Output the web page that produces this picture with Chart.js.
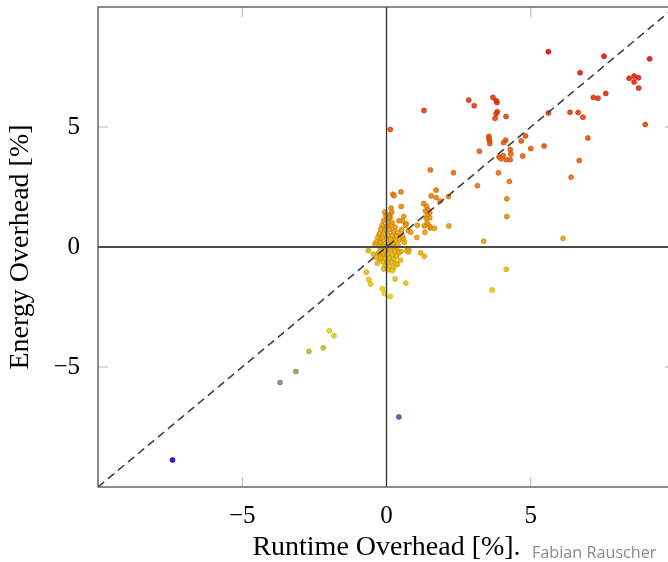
<!DOCTYPE html>
<html>
<head>
<meta charset="utf-8">
<script src="https://cdn.jsdelivr.net/npm/chart.js@4.4.1/dist/chart.umd.min.js"></script>
<style>
    html, body { margin: 0; padding: 0; background: #fff; overflow: hidden; width: 668px; height: 562px; }
    #wrap { position: relative; width: 680px; height: 562px; }
    #credit {
        position: absolute; left: 532px; top: 541px;
        font-family: "Open Sans", sans-serif; font-size: 16.2px; color: #8a8a8a; white-space: nowrap;
    }
</style>
</head>
<body>
<div id="wrap">
    <canvas id="scatterChart" width="680" height="562"></canvas>
    <div id="credit">Fabian Rauscher</div>
</div>
<script>
// ========================================
// Runtime vs energy overhead scatter
// ========================================

// Runtime overhead [%] (x) and energy overhead [%] (y)
const runtimeOverhead = [
    5.61, 7.54, 9.12, 6.71, 8.41, 8.58, 8.73, 8.58, 8.74, 7.17, 7.33, 7.60,
    2.85, 3.04, 1.30, 3.69, 3.80, 3.83, 3.84, 3.80, 3.76, 4.14, 5.61, 6.36,
    6.64, 6.81, 8.97, 6.98, 3.55, 3.55, 3.57, 3.58, 4.13, 4.06, 4.67, 4.82,
    5.46, 5.00, 3.22, 4.29, 4.31, 4.72, 3.90, 3.97, 4.04, 4.15, 4.29, 6.68,
    3.88, 4.26, 6.40, 3.15, 2.32, 1.52, 4.17, 4.17, 2.15, 1.72, 1.55, 1.72,
    1.86, 1.29, 1.38, 1.44, 1.35, 1.50, 1.41, 1.50, 1.38, 1.07, 1.31, 1.44,
    1.52, 1.66, 1.33, 1.05, 2.16, 0.13, 3.37, 6.12, 4.15, 3.66, 1.18, 1.31,
    0.22, 0.26, 0.50, 0.16, 0.51, -0.06, 0.12, 0.12, 0.60, 0.43, 0.55, 0.68,
    0.76, 0.84, 0.52, 0.66, 0.77, 0.70, 0.76, 0.50, -0.35, -0.21, -0.63, -0.36,
    -0.24, -0.15, -0.70, -0.61, -0.55, -0.14, -0.07, 0.13, 0.30, 0.67,
    -0.10, 0.05, 0.20, -0.15, 0.00, 0.15, 0.30, -0.20, -0.05, 0.10, 0.25, 0.40,
    -0.25, -0.10, 0.05, 0.20, 0.35, -0.30, -0.15, 0.00, 0.15, 0.30, 0.45, -0.20,
    -0.05, 0.10, 0.25, 0.40, -0.25, -0.10, 0.05, 0.20, 0.35, -0.18, -0.02, 0.12,
    0.28, 0.42, -0.28, -0.10, 0.05, 0.20, 0.35, -0.20, -0.05, 0.10, 0.25, -0.12,
    0.02, 0.18, 0.32, -0.05, 0.10, 0.25, -0.10, 0.05, 0.20, 0.08, 0.18, -0.02,
    1.41, 1.51, -3.69, -3.14, -2.69, -2.19, -1.98, -1.82, 0.43, -7.42,
    -0.40, 0.55, -0.45, 0.38, 0.62, -0.32, 0.48, 0.58
];
const energyOverhead = [
    8.14, 7.95, 7.84, 7.26, 7.03, 7.12, 7.05, 6.88, 6.62, 6.23, 6.20, 6.40,
    6.12, 5.89, 5.69, 6.23, 6.09, 6.02, 5.64, 5.55, 5.36, 5.44, 5.58, 5.61,
    5.60, 5.41, 5.10, 4.54, 4.61, 4.52, 4.43, 4.31, 4.45, 4.35, 4.42, 4.63,
    4.21, 4.10, 3.99, 4.06, 3.88, 3.79, 3.75, 3.68, 3.81, 3.64, 3.64, 3.60,
    3.09, 2.73, 2.91, 2.55, 3.09, 3.21, 2.01, 1.27, 2.10, 2.37, 2.13, 2.06,
    1.91, 1.81, 1.70, 1.55, 1.50, 1.43, 1.33, 1.22, 1.19, 0.91, 0.88, 0.94,
    0.79, 0.78, 0.61, 0.40, 0.88, 4.90, 0.24, 0.36, -0.93, -1.79, -0.24, -0.39,
    2.20, 2.14, 2.30, 1.62, 1.69, 1.46, 1.34, 1.23, 1.27, 1.09, 1.09, 0.98,
    0.68, 0.61, 0.72, 0.90, -0.10, -0.15, -0.21, -0.19, 0.22, 0.26, -0.15, -0.43,
    -0.50, -0.34, -1.05, -1.36, -1.54, -1.74, -1.94, -2.06, -1.33, -1.51,
    1.10, 1.05, 1.00, 0.90, 0.85, 0.88, 0.82, 0.75, 0.70, 0.72, 0.65, 0.60,
    0.55, 0.55, 0.50, 0.48, 0.45, 0.40, 0.38, 0.35, 0.30, 0.28, 0.30, 0.18,
    0.15, 0.12, 0.10, 0.08, 0.02, 0.00, -0.02, 0.03, -0.05, -0.12, -0.15, -0.10,
    -0.18, -0.25, -0.25, -0.28, -0.30, -0.32, -0.38, -0.45, -0.48, -0.45, -0.52, -0.62,
    -0.65, -0.62, -0.70, -0.78, -0.80, -0.85, -0.92, -0.95, -0.98, 1.20, 1.45, 1.30,
    0.99, 0.85, -5.65, -5.19, -4.35, -4.20, -3.49, -3.70, -7.08, -8.88,
    0.12, 0.45, -0.30, -0.72, 0.20, -0.68, -0.55, 0.35
];

// axis settings
const axisRange = [-10, 10];
const tickValues = [-5, 0, 5];
const xTitle = 'Runtime Overhead [%].';
const yTitle = 'Energy Overhead [%]';

// pgfplots default colormap: blue - yellow - orange - red
const colormapStops = [[0, 0, 255], [255, 255, 0], [255, 128, 0], [255, 0, 0]];

function mapColor(value, lo, hi) {
    const t = Math.max(0, Math.min(1, (value - lo) / (hi - lo))) * 3;
    const i = Math.min(2, Math.floor(t));
    const f = t - i;
    const a = colormapStops[i];
    const b = colormapStops[i + 1];
    return a.map((c, k) => Math.round(c + (b[k] - c) * f));
}

function formatTick(value) {
    return value < 0 ? '\u2212' + Math.abs(value) : String(value);
}

const points = runtimeOverhead.map((x, i) => ({ x: x, y: energyOverhead[i] }));
const metaMin = Math.min(...energyOverhead);
const metaMax = Math.max(...energyOverhead);
const fillColors = [];
const edgeColors = [];
energyOverhead.forEach(v => {
    const c = mapColor(v, metaMin, metaMax);
    const f = c.map(k => Math.round(k * 0.9));
    const e = c.map(k => Math.round(k * 0.78));
    fillColors.push(`rgba(${f[0]}, ${f[1]}, ${f[2]}, 0.85)`);
    edgeColors.push(`rgba(${e[0]}, ${e[1]}, ${e[2]}, 0.9)`);
});

// frame and inner tick marks like pgfplots
const framePlugin = {
    id: 'frame',
    beforeDatasetsDraw(chart) {
        const { ctx, chartArea: a, scales } = chart;
        ctx.save();
        ctx.strokeStyle = '#b4b4b4';
        ctx.lineWidth = 1;
        const len = 10;
        tickValues.forEach(v => {
            const px = scales.x.getPixelForValue(v);
            const py = scales.y.getPixelForValue(v);
            ctx.beginPath();
            ctx.moveTo(px, a.bottom); ctx.lineTo(px, a.bottom - len);
            ctx.moveTo(px, a.top); ctx.lineTo(px, a.top + len);
            ctx.moveTo(a.left, py); ctx.lineTo(a.left + len, py);
            ctx.moveTo(a.right, py); ctx.lineTo(a.right - len, py);
            ctx.stroke();
        });
        ctx.restore();
    },
    afterDatasetsDraw(chart) {
        const { ctx, chartArea: a } = chart;
        ctx.save();
        ctx.strokeStyle = '#5c5c5c';
        ctx.lineWidth = 1.4;
        ctx.strokeRect(a.left, a.top, a.right - a.left, a.bottom - a.top);
        ctx.restore();
    }
};

function initChart() {
    const canvas = document.getElementById('scatterChart');
    const ctx = canvas.getContext('2d');

    new Chart(ctx, {
        type: 'scatter',
        data: {
            datasets: [
                {
                    label: 'diagonal',
                    data: axisRange.map(v => ({ x: v, y: v })),
                    showLine: true,
                    borderColor: '#404040',
                    borderWidth: 1.6,
                    borderDash: [8, 5],
                    pointRadius: 0,
                    order: 0
                },
                {
                    label: 'zeroX',
                    data: axisRange.map(v => ({ x: v, y: 0 })),
                    showLine: true,
                    borderColor: '#4a4a4a',
                    borderWidth: 1.8,
                    pointRadius: 0,
                    order: 1
                },
                {
                    label: 'zeroY',
                    data: axisRange.map(v => ({ x: 0, y: v })),
                    showLine: true,
                    borderColor: '#303030',
                    borderWidth: 1.3,
                    pointRadius: 0,
                    order: 2
                },
                {
                    label: 'benchmarks',
                    data: points,
                    backgroundColor: fillColors,
                    borderColor: edgeColors,
                    borderWidth: 0.7,
                    pointRadius: 2.5,
                    order: 3
                }
            ]
        },
        options: {
            responsive: false,
            animation: false,
            layout: { padding: { top: 7, right: 5, left: 0, bottom: 0 } },
            plugins: {
                legend: { display: false },
                tooltip: { enabled: false }
            },
            scales: {
                x: {
                    type: 'linear',
                    min: axisRange[0],
                    max: axisRange[1],
                    afterBuildTicks: s => { s.ticks = tickValues.map(v => ({ value: v })); },
                    afterFit: s => { s.height = 75; s.paddingLeft = 0; s.paddingRight = 0; },
                    grid: { display: false },
                    border: { display: false },
                    ticks: {
                        padding: 6,
                        color: '#000',
                        font: { family: 'Liberation Serif', size: 25 },
                        callback: formatTick
                    },
                    title: {
                        display: true,
                        text: xTitle,
                        color: '#000',
                        font: { family: 'Liberation Serif', size: 28, lineHeight: 1 },
                        padding: { top: 0, bottom: 0 }
                    }
                },
                y: {
                    type: 'linear',
                    min: axisRange[0],
                    max: axisRange[1],
                    afterBuildTicks: s => { s.ticks = tickValues.map(v => ({ value: v })); },
                    afterFit: s => { s.width = 98; s.paddingTop = 0; s.paddingBottom = 0; },
                    grid: { display: false },
                    border: { display: false },
                    ticks: {
                        padding: 10,
                        color: '#000',
                        font: { family: 'Liberation Serif', size: 25 },
                        callback: formatTick
                    },
                    title: {
                        display: true,
                        text: yTitle,
                        color: '#000',
                        font: { family: 'Liberation Serif', size: 28, lineHeight: 1 },
                        padding: { top: 7, bottom: 0 }
                    }
                }
            }
        },
        plugins: [framePlugin]
    });
}

document.addEventListener('DOMContentLoaded', initChart);
</script>
</body>
</html>
